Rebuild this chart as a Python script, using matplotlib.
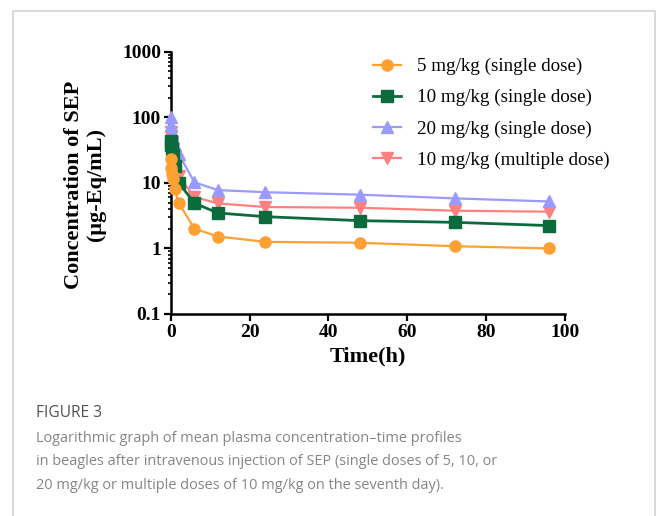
import matplotlib
matplotlib.use("Agg")
import matplotlib.pyplot as plt
from matplotlib.lines import Line2D
from matplotlib.ticker import LogLocator, NullFormatter, FixedLocator, FixedFormatter

# ---- data ----
time_h = [0.083, 0.167, 0.25, 0.5, 1, 2, 6, 12, 24, 48, 72, 96]
dose5_single = [23, 17, 13.6, 11.4, 8.0, 5.0, 2.0, 1.52, 1.26, 1.22, 1.08, 1.0]
dose10_single = [43, 38, 33, 27, 18, 10.1, 4.9, 3.47, 3.05, 2.65, 2.5, 2.23]
dose20_single = [102, 77, 58, 48, 38, 28, 10.2, 7.75, 7.2, 6.6, 5.8, 5.2]
dose10_multiple = [60, 50, 42, 33, 20, 12.7, 6.1, 4.85, 4.28, 4.17, 3.76, 3.63]

series_labels = ["5 mg/kg (single dose)", "10 mg/kg (single dose)",
                 "20 mg/kg (single dose)", "10 mg/kg (multiple dose)"]
x_ticks = [0, 20, 40, 60, 80, 100]
y_ticks = [0.1, 1, 10, 100, 1000]
y_ticklabels = ["0.1", "1", "10", "100", "1000"]

caption_title = "FIGURE 3"
caption_lines = [
    "Logarithmic graph of mean plasma concentration\u2013time profiles",
    "in beagles after intravenous injection of SEP (single doses of 5, 10, or",
    "20 mg/kg or multiple doses of 10 mg/kg on the seventh day).",
]

W, H = 656, 516
fig = plt.figure(figsize=(W / 100, H / 100), dpi=100)
fig.patch.set_facecolor("white")

# border
bx0, by0, bx1 = 13 / W, 1 - 10.5 / H, 655 / W
fig.add_artist(Line2D([bx0, bx0, bx1, bx1], [0, by0, by0, 0],
                      transform=fig.transFigure, color="#d2d2d2", lw=1.2))

ax = fig.add_axes([170.7 / W, 1 - 314 / H, (565 - 170.7) / W, (314 - 51.7) / H])

serif = "Liberation Serif"
c_orange = "#FFA032"
c_green = "#0B6B3D"
c_blue = "#9A9AFF"
c_pink = "#FF8080"

ax.plot(time_h, dose10_multiple, color=c_pink, marker="v", ms=8.5, lw=1.6,
        label=series_labels[3], zorder=3, clip_on=False)
ax.plot(time_h, dose20_single, color=c_blue, marker="^", ms=8.5, lw=1.6,
        label=series_labels[2], zorder=4, clip_on=False)
ax.plot(time_h, dose10_single, color=c_green, marker="s", ms=8, lw=2.0,
        label=series_labels[1], zorder=5, clip_on=False)
ax.plot(time_h, dose5_single, color=c_orange, marker="o", ms=8, lw=1.6,
        label=series_labels[0], zorder=6, clip_on=False)

ax.set_yscale("log")
ax.set_ylim(0.1, 1000)
ax.set_xlim(0, 100)

ax.yaxis.set_major_locator(FixedLocator(y_ticks))
ax.yaxis.set_major_formatter(FixedFormatter(y_ticklabels))
ax.yaxis.set_minor_locator(LogLocator(base=10, subs=range(2, 10)))
ax.yaxis.set_minor_formatter(NullFormatter())
ax.set_xticks(x_ticks)
ax.set_xticklabels([str(v) for v in x_ticks])

for s in ["top", "right"]:
    ax.spines[s].set_visible(False)
for s in ["left", "bottom"]:
    ax.spines[s].set_linewidth(1.8)
    ax.spines[s].set_color("black")

ax.tick_params(axis="both", which="major", direction="out", length=5, width=1.6,
               labelsize=14, pad=2)
ax.tick_params(axis="y", which="minor", direction="out", length=2.5, width=1.2)
for lab in ax.get_xticklabels() + ax.get_yticklabels():
    lab.set_fontfamily(serif)
    lab.set_fontweight("bold")

ax.set_xlabel("Time(h)", fontfamily=serif, fontweight="bold", fontsize=16, labelpad=4)
fig.text(85 / W, 1 - 184.5 / H, "Concentration of SEP\n(\u03bcg-Eq/mL)",
         rotation=90, ha="center", va="center", multialignment="center",
         fontfamily=serif, fontweight="bold", fontsize=16, linespacing=1.15)

handles, labels = ax.get_legend_handles_labels()
order = [3, 2, 1, 0]
leg = ax.legend([handles[i] for i in order], [labels[i] for i in order],
                loc="upper left", bbox_to_anchor=(372.7 / W, 1 - 58 / H),
                bbox_transform=fig.transFigure, frameon=False,
                prop={"family": serif, "size": 13.7}, handlelength=1.5,
                handletextpad=0.85, labelspacing=0.72, borderpad=0,
                borderaxespad=0)

# caption
fig.text(36 / W, 1 - 413 / H, caption_title, ha="left", va="center",
         fontfamily="Open Sans", fontsize=11.2, color="#505050")
for i, line in enumerate(caption_lines):
    fig.text(36 / W, 1 - (438 + 23.7 * i) / H, line, ha="left", va="center",
             fontfamily="Open Sans", fontsize=10.45, color="#858585")

fig.savefig("out.png", dpi=100)
